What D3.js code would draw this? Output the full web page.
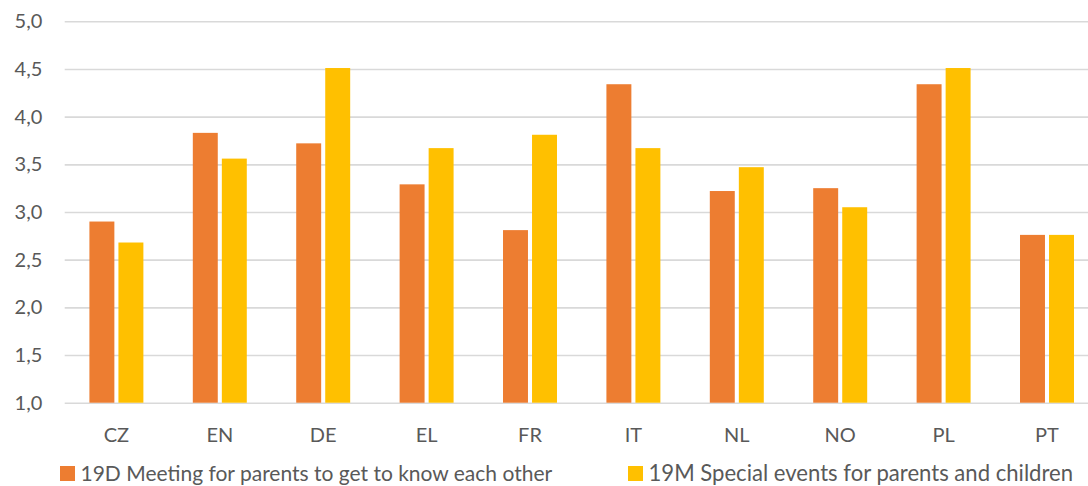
<!DOCTYPE html>
<html><head><meta charset="utf-8">
<script src="https://cdn.jsdelivr.net/npm/d3@7"></script>
<style>body{margin:0;background:#fff}svg{display:block}</style>
</head><body>
<svg id="c" width="1088" height="486"></svg>
<script>
const categories = ["CZ","EN","DE","EL","FR","IT","NL","NO","PL","PT"];
const series19D = [2.90,3.83,3.72,3.29,2.81,4.34,3.22,3.25,4.34,2.76];
const series19M = [2.68,3.56,4.51,3.67,3.81,3.67,3.47,3.05,4.51,2.76];
const seriesNames = ["19D Meeting for parents to get to know each other","19M Special events for parents and children"];
const yTicks = [1.0,1.5,2.0,2.5,3.0,3.5,4.0,4.5,5.0];
const colors = ["#ED7D31","#FFC000"];

const svg = d3.select("#c");
const font = "Lato, 'Open Sans', sans-serif";
const textColor = "#595959";
const y = d3.scaleLinear().domain([1,5]).range([402.7,21.3]);
const x = d3.scaleBand().domain(categories).range([64.7,1098.7]).paddingInner(0.478).paddingOuter(0.239);
const xs = d3.scaleBand().domain([0,1]).range([0,x.bandwidth()]).paddingInner(0.14);
const locale = d3.formatLocale({decimal:",",thousands:".",grouping:[3],currency:["",""]});
const fmt = locale.format(".1f");

// gridlines + y labels
const yAxis = d3.axisLeft(y).tickValues(yTicks).tickSize(-(1098.7-64.7)).tickFormat(fmt).tickPadding(22.4);
const ga = svg.append("g").attr("transform","translate(64.7,0)").call(yAxis);
ga.select(".domain").remove();
ga.selectAll(".tick line").attr("stroke","#d9d9d9").attr("stroke-width",1.6);
ga.selectAll(".tick text").attr("fill",textColor).style("font-family",font).style("font-size","20px");

// bars
const data = categories.map((c,i)=>({c, v:[series19D[i],series19M[i]]}));
const groups = svg.append("g").selectAll("g").data(data).join("g")
  .attr("transform",d=>`translate(${x(d.c)},0)`);
groups.selectAll("rect").data(d=>d.v.map((v,k)=>({v,k}))).join("rect")
  .attr("x",d=>xs(d.k)).attr("width",xs.bandwidth())
  .attr("y",d=>y(d.v)).attr("height",d=>y(1)-y(d.v))
  .attr("fill",d=>colors[d.k]);

// x axis
const xAxis = d3.axisBottom(x).tickSize(0).tickPadding(24.8);
const gx = svg.append("g").attr("transform","translate(0,402.7)").call(xAxis);
gx.select(".domain").remove();
gx.selectAll(".tick text").attr("fill",textColor).style("font-family",font).style("font-size","20px");

// legend
const legendX = [60,628];
const legendFont = [21,22.1];
const lg = svg.append("g").selectAll("g").data(seriesNames).join("g")
  .attr("transform",(d,i)=>`translate(${legendX[i]},466)`);
lg.append("rect").attr("width",15).attr("height",15).attr("fill",(d,i)=>colors[i]);
lg.append("text").attr("x",20.5).attr("y",14.6).text(d=>d)
  .attr("fill",textColor).style("font-family",font).style("font-size",(d,i)=>legendFont[i]+"px");
</script>
</body></html>
